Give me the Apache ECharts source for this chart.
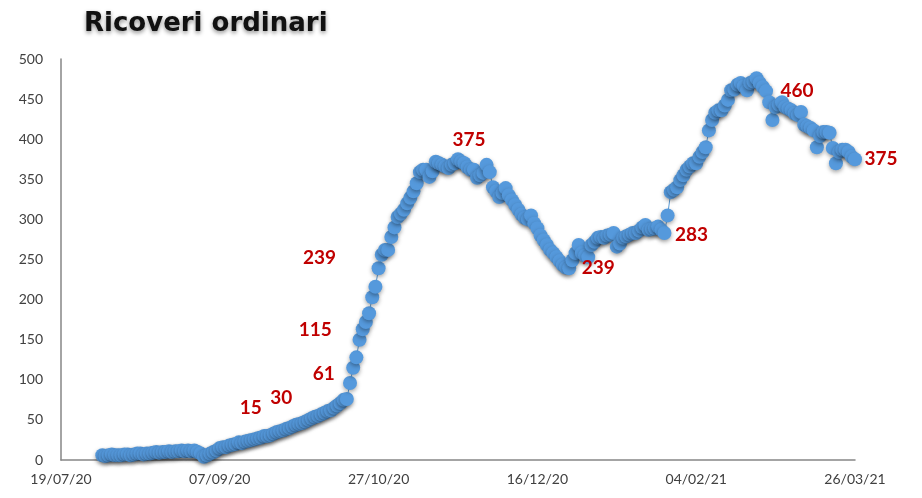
<!DOCTYPE html>
<html>
<head>
<meta charset="utf-8" />
<title>Ricoveri ordinari</title>
<script src="https://cdn.jsdelivr.net/npm/echarts@6/dist/echarts.min.js"></script>
<style type="text/css">
  body { margin: 0; background: #fff; }
</style>
</head>
<body>
<div id="main" style="width: 922px;height: 498px"></div>
<script type="text/javascript">

// giorni contati dal 19/07/20 (giorno 0); prima rilevazione al giorno 13
var startDay = 13;
var ricoveri = [
  6, 5, 6, 7, 6, 6, 6,
  7, 7, 6, 7, 8, 8, 7, 8, 8, 9,
  10, 9, 10, 10, 11, 10, 11, 11, 12, 11,
  12, 11, 12, 10, 8, 4, 6, 8, 10, 12,
  15, 16, 16, 18, 19, 20, 22, 21, 23, 24,
  25, 26, 27, 28, 30, 30, 31, 33, 35, 36,
  37, 39, 40, 42, 44, 45, 46, 48, 50, 52,
  54, 55, 57, 59, 61, 62, 65, 68, 71, 75,
  76, 96, 115, 128, 150, 163, 172, 183, 203, 216,
  239, 256, 262, 262, 278, 290, 303, 307, 312, 320,
  327, 335, 345, 359, 362, 362, 353, 360, 372, 370,
  368, 366, 364, 368, 370, 375, 372, 370, 365, 362,
  362, 352, 355, 358, 368, 359, 340, 335, 328, 333,
  339, 330, 324, 318, 312, 306, 302, 300, 305, 295,
  289, 280, 274, 268, 262, 258, 253, 248, 243, 240,
  239, 249, 258, 268, 258, 255, 253, 268, 272, 277,
  278, 277, 280, 281, 283, 266, 270, 277, 279, 281,
  283, 283, 286, 290, 293, 287, 288, 289, 291, 287,
  283, 305, 334, 337, 340, 349, 355, 362, 366, 370,
  370, 378, 384, 390, 411, 424, 433, 436, 436, 442,
  449, 461, 462, 468, 470, 466, 461, 470, 472, 476,
  470, 465, 460, 446, 424, 440, 443, 446, 440, 438,
  436, 432, 430, 434, 418, 416, 414, 411, 390, 404,
  409, 409, 408, 389, 370, 384, 387, 387, 384, 378,
  375
];

// giorni con etichetta
var labelDays = [50, 64, 84, 92, 100, 125, 160, 190, 222, 250];
// spostamento etichette in px (dx, dy)
var labelOffsets = [[31, -40], [17, -38], [-4, -37], [-38, -38], [-59, -10],
                    [11, -19], [29, 0], [27, 2], [31, 0], [26, 0]];

var xTicks = [0, 50, 100, 150, 200, 250];

function dayToDate(d) {
  var t = new Date(Date.UTC(2020, 6, 19) + d * 86400000);
  var dd = ('0' + t.getUTCDate()).slice(-2);
  var mm = ('0' + (t.getUTCMonth() + 1)).slice(-2);
  var yy = ('' + t.getUTCFullYear()).slice(-2);
  return dd + '/' + mm + '/' + yy;
}

var seriesData = [];
for (var i = 0; i < ricoveri.length; i++) {
  var day = startDay + i;
  var item = { value: [day, ricoveri[i]] };
  var k = labelDays.indexOf(day);
  if (k >= 0) {
    item.label = {
      show: true,
      position: 'inside',
      offset: labelOffsets[k],
      formatter: '{@[1]}'
    };
  }
  seriesData.push(item);
}

var myChart = echarts.init(document.getElementById('main'));

var option = {
  animation: false,
  title: {
    text: 'Ricoveri ordinari',
    left: 79,
    top: 6,
    textStyle: {
      fontFamily: 'DejaVu Sans',
      fontWeight: 'bold',
      fontSize: 26,
      color: '#111',
      textShadowColor: 'rgba(0,0,0,0.45)',
      textShadowBlur: 4,
      textShadowOffsetY: 2
    }
  },
  grid: { left: 61, right: 67, top: 59, bottom: 38 },
  xAxis: {
    type: 'value',
    min: 0,
    max: 250,
    interval: 50,
    splitLine: { show: false },
    axisTick: { show: false },
    axisLine: { lineStyle: { color: '#868686', width: 1.5 } },
    axisLabel: {
      margin: 12,
      color: '#404040',
      fontFamily: 'Lato',
      fontSize: 14,
      customValues: xTicks,
      formatter: function (v) { return dayToDate(v); }
    }
  },
  yAxis: {
    type: 'value',
    min: 0,
    max: 500,
    interval: 50,
    splitLine: { show: false },
    axisTick: { show: false },
    axisLine: { show: true, lineStyle: { color: '#868686', width: 1.5 } },
    axisLabel: {
      margin: 18,
      color: '#404040',
      fontFamily: 'Lato',
      fontSize: 14
    }
  },
  series: [
    {
      type: 'line',
      data: seriesData,
      clip: false,
      symbol: 'circle',
      symbolSize: 14,
      showAllSymbol: true,
      lineStyle: { color: '#5b9bd5', width: 1 },
      itemStyle: {
        color: '#5599dc',
        shadowColor: 'rgba(0,0,0,0.35)',
        shadowBlur: 4,
        shadowOffsetY: 2
      },
      label: {
        color: '#c00000',
        fontFamily: 'Lato',
        fontWeight: 'bold',
        fontSize: 19
      },
      emphasis: { disabled: true }
    }
  ]
};

myChart.setOption(option);

</script>
</body>
</html>
